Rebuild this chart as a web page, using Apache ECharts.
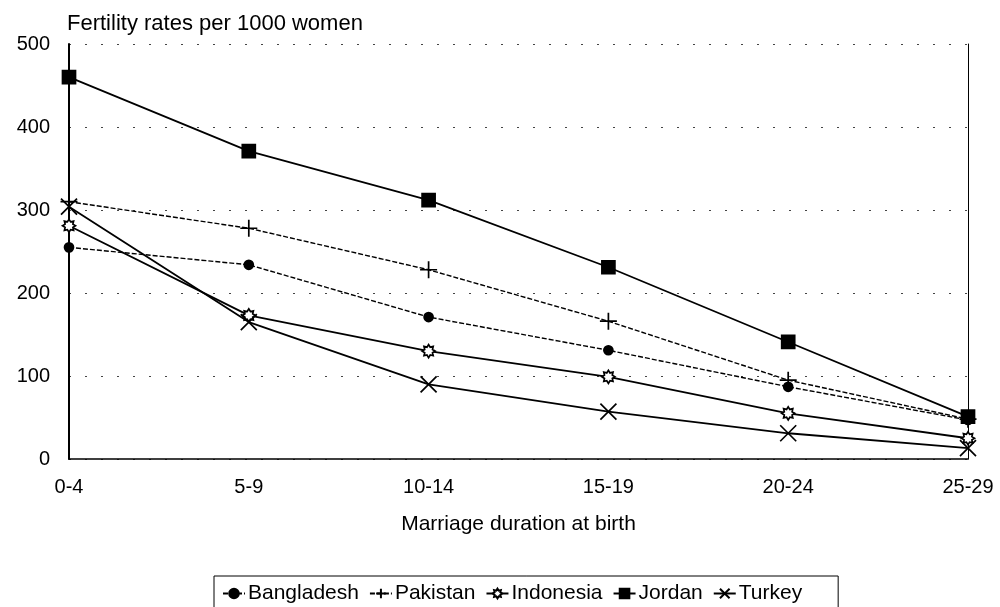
<!DOCTYPE html>
<html>
<head>
<meta charset="utf-8">
<script src="https://cdn.jsdelivr.net/npm/echarts@6/dist/echarts.min.js"></script>
<style>
  html, body { margin: 0; padding: 0; background: #fff; }
  #chart { width: 1000px; height: 607px; }
</style>
</head>
<body>
<div id="chart"></div>
<script>
// marriage duration groups
const durations = ["0-4", "5-9", "10-14", "15-19", "20-24", "25-29"];
const yTicks = [0, 100, 200, 300, 400, 500];

// fertility rates per 1000 women
const bangladesh = [255, 234, 171, 131, 87, 47];
const pakistan = [310, 278, 228, 166, 95, 48];
const indonesia = [281, 173, 130, 99, 55, 25];
const jordan = [460, 371, 312, 231, 141, 51];
const turkey = [304, 165, 90, 57, 31, 13];

const FONT = "'Liberation Sans', Arial, sans-serif";

// marker shapes
const plusPath = "path://M0,10L20,10M10,0L10,20";
const crossPath = "path://M0,0L20,20M20,0L0,20";
const starPath = "path://M20,10L16,12.49L17.07,17.07L12.49,16L10,20L7.51,16L2.93,17.07L4,12.49L0,10L4,7.51L2.93,2.93L7.51,4L10,0L12.49,4L17.07,2.93L16,7.51Z";

function lineSeries(name, data, symbol, size, dashed, fill) {
  return {
    name: name,
    type: "line",
    data: data,
    symbol: symbol,
    symbolSize: size,
    symbolKeepAspect: true,
    showAllSymbol: true,
    lineStyle: { color: "#000", width: dashed ? 1.4 : 1.8, type: dashed ? [5, 2] : "solid" },
    itemStyle: { color: fill || "#000", borderColor: "#000", borderWidth: 1.7 },
    emphasis: { disabled: true }
  };
}

const chart = echarts.init(document.getElementById("chart"));
chart.setOption({
  animation: false,
  backgroundColor: "#fff",
  textStyle: { fontFamily: FONT, color: "#000" },
  title: {
    text: "Fertility rates per 1000 women",
    left: 67,
    top: 13,
    padding: 0,
    textStyle: { fontFamily: FONT, fontSize: 22, fontWeight: "normal", color: "#000" }
  },
  grid: { left: 69, right: 32, top: 44, bottom: 148 },
  legend: {
    left: 214,
    top: 576,
    padding: [7, 36, 22, 8],
    itemGap: 10,
    itemWidth: 22,
    itemHeight: 12,
    borderColor: "#000",
    borderWidth: 1,
    textStyle: { fontFamily: FONT, fontSize: 21, color: "#000", padding: [0, 0, 0, -2] },
    data: ["Bangladesh", "Pakistan", "Indonesia", "Jordan", "Turkey"]
  },
  xAxis: {
    type: "category",
    data: durations,
    boundaryGap: false,
    name: "Marriage duration at birth",
    nameLocation: "middle",
    nameGap: 55,
    nameTextStyle: { fontFamily: FONT, fontSize: 21, color: "#000" },
    axisLine: { lineStyle: { color: "#000", width: 1.5 } },
    axisTick: { show: false },
    axisLabel: { fontFamily: FONT, fontSize: 20, color: "#000", margin: 18 },
    splitLine: { show: false }
  },
  yAxis: [
    {
      type: "value",
      min: yTicks[0],
      max: yTicks[yTicks.length - 1],
      interval: 100,
      axisLine: { show: true, lineStyle: { color: "#000", width: 2 } },
      axisTick: { show: false },
      axisLabel: { fontFamily: FONT, fontSize: 20, color: "#000", margin: 19 },
      splitLine: { show: true, lineStyle: { color: "#444", width: 1, type: [2, 14] } }
    },
    {
      type: "value",
      position: "right",
      min: yTicks[0],
      max: yTicks[yTicks.length - 1],
      interval: 100,
      axisLine: { show: true, lineStyle: { color: "#000", width: 1 } },
      axisTick: { show: false },
      axisLabel: { show: false },
      splitLine: { show: false }
    }
  ],
  series: [
    lineSeries("Bangladesh", bangladesh, "circle", 9, true),
    lineSeries("Pakistan", pakistan, plusPath, 17, true),
    lineSeries("Indonesia", indonesia, starPath, 13, false, "#fff"),
    lineSeries("Jordan", jordan, "rect", 13, false),
    lineSeries("Turkey", turkey, crossPath, 16, false)
  ]
});
</script>
</body>
</html>
